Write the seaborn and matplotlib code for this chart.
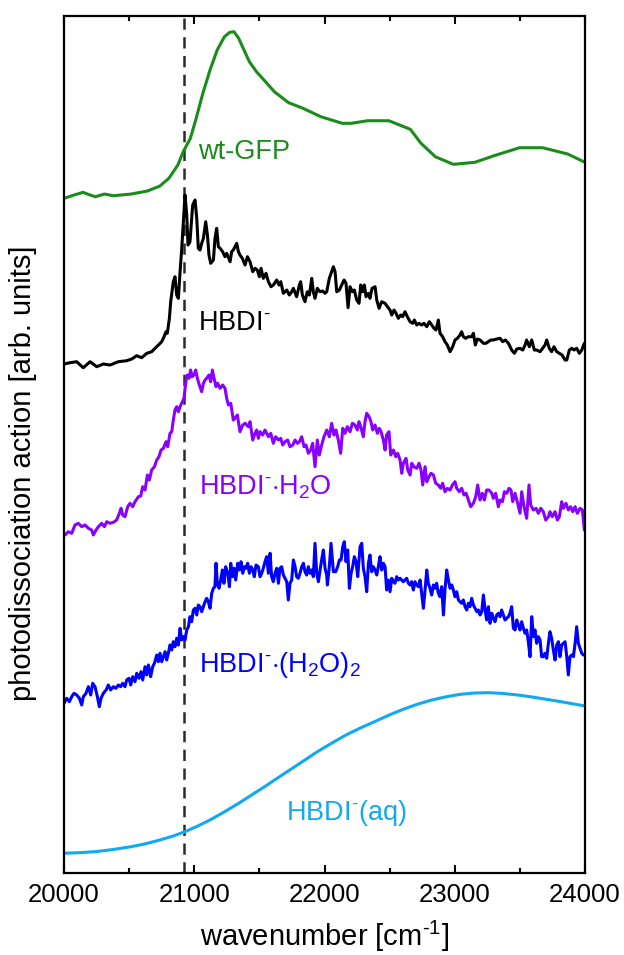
import numpy as np
import pandas as pd
import matplotlib
matplotlib.use("Agg")
import matplotlib.pyplot as plt
import seaborn as sns

# ---------------- data (wavenumber in cm^-1, stacked action in arb. units) ----------------
gfp_x = [20000, 20077, 20146, 20200, 20242, 20310, 20379, 20516, 20640, 20736, 20805, 20874,
         20915, 20970, 21011, 21066, 21121, 21176, 21231, 21272, 21305, 21341, 21382, 21423,
         21478, 21547, 21615, 21725, 21835, 21972, 22137, 22206, 22329, 22494, 22659, 22741,
         22851, 22989, 23153, 23318, 23497, 23675, 23868, 24000]
gfp_y = [6.747, 6.78, 6.807, 6.78, 6.763, 6.79, 6.773, 6.79, 6.82, 6.87, 6.947, 7.08,
         7.213, 7.347, 7.53, 7.797, 8.03, 8.23, 8.363, 8.407, 8.413, 8.347, 8.23, 8.113,
         8.013, 7.913, 7.813, 7.703, 7.647, 7.563, 7.497, 7.497, 7.523, 7.523, 7.437, 7.297,
         7.163, 7.087, 7.107, 7.18, 7.253, 7.253, 7.19, 7.107]

hbdi_x = [20000, 20046, 20097, 20148, 20200, 20251, 20302, 20353, 20417, 20481, 20520, 20558,
          20596, 20635, 20673, 20712, 20750, 20768, 20783, 20793, 20809, 20819, 20839, 20852,
          20865, 20878, 20891, 20903, 20916, 20929, 20942, 20952, 20967, 20988, 21006, 21019,
          21031, 21044, 21057, 21070, 21088, 21101, 21113, 21126, 21147, 21159, 21172, 21185,
          21198, 21218, 21236, 21249, 21275, 21287, 21300, 21326, 21339, 21351, 21369, 21390,
          21408, 21428, 21449, 21467, 21484, 21500, 21513, 21530, 21551, 21569, 21589, 21607,
          21633, 21651, 21664, 21684, 21710, 21730, 21748, 21761, 21786, 21807, 21817, 21830,
          21850, 21868, 21884, 21902, 21914, 21927, 21945, 21965, 21986, 22004, 22017, 22037,
          22055, 22068, 22081, 22094, 22114, 22132, 22150, 22165, 22181, 22196, 22214, 22229,
          22247, 22265, 22278, 22293, 22306, 22319, 22337, 22349, 22365, 22388, 22401, 22419,
          22439, 22465, 22483, 22503, 22516, 22534, 22549, 22567, 22585, 22600, 22618, 22636,
          22657, 22677, 22690, 22708, 22726, 22746, 22764, 22785, 22805, 22823, 22841, 22856,
          22874, 22887, 22907, 22925, 22943, 22964, 22984, 23002, 23020, 23040, 23053, 23066,
          23084, 23104, 23130, 23143, 23158, 23174, 23194, 23220, 23240, 23258, 23276, 23296,
          23322, 23348, 23368, 23389, 23412, 23437, 23458, 23476, 23501, 23522, 23540, 23552,
          23573, 23591, 23611, 23629, 23655, 23675, 23693, 23706, 23726, 23744, 23762, 23783,
          23803, 23824, 23847, 23860, 23880, 23898, 23916, 23936, 23957, 23975, 23995]
hbdi_y = [5.09, 5.103, 5.113, 5.053, 5.113, 5.063, 5.09, 5.08, 5.113, 5.123, 5.14, 5.173,
          5.153, 5.197, 5.213, 5.263, 5.313, 5.363, 5.413, 5.397, 5.547, 5.713, 5.913, 5.963,
          5.78, 5.747, 6.013, 6.23, 6.513, 6.78, 6.58, 6.28, 6.313, 6.68, 6.73, 6.547,
          6.247, 6.23, 6.297, 6.347, 6.513, 6.38, 6.18, 6.097, 6.13, 6.347, 6.447, 6.263,
          6.247, 6.213, 6.163, 6.197, 6.113, 6.213, 6.23, 6.297, 6.213, 6.18, 6.147, 6.08,
          6.163, 6.113, 6.013, 6.047, 6.03, 5.963, 6.047, 5.947, 5.997, 5.913, 5.863, 5.88,
          5.93, 5.88, 5.913, 5.797, 5.83, 5.78, 5.813, 5.847, 5.763, 5.88, 5.913, 5.78,
          5.713, 5.813, 5.78, 5.947, 5.813, 5.747, 5.847, 5.813, 5.82, 5.797, 5.813, 5.947,
          6.013, 6.063, 6.013, 5.813, 5.83, 5.88, 5.93, 5.897, 5.653, 5.863, 5.813, 5.83,
          5.73, 5.697, 5.88, 5.813, 5.88, 5.763, 5.797, 5.747, 5.847, 5.863, 5.73, 5.647,
          5.713, 5.697, 5.663, 5.63, 5.58, 5.63, 5.597, 5.547, 5.58, 5.563, 5.613, 5.563,
          5.513, 5.497, 5.53, 5.48, 5.497, 5.48, 5.497, 5.463, 5.513, 5.48, 5.447, 5.43,
          5.53, 5.397, 5.363, 5.313, 5.28, 5.213, 5.263, 5.33, 5.347, 5.38, 5.413, 5.363,
          5.347, 5.363, 5.363, 5.397, 5.28, 5.34, 5.33, 5.297, 5.297, 5.313, 5.33, 5.33,
          5.34, 5.347, 5.313, 5.33, 5.297, 5.23, 5.197, 5.24, 5.247, 5.23, 5.28, 5.33,
          5.263, 5.33, 5.23, 5.23, 5.213, 5.247, 5.28, 5.33, 5.247, 5.213, 5.263, 5.213,
          5.197, 5.18, 5.13, 5.13, 5.23, 5.247, 5.23, 5.247, 5.197, 5.23, 5.297]

h2o_x = [20008, 20033, 20059, 20084, 20110, 20136, 20161, 20187, 20212, 20225, 20246, 20264,
         20289, 20310, 20328, 20353, 20379, 20404, 20425, 20438, 20450, 20468, 20489, 20507,
         20527, 20545, 20571, 20589, 20604, 20622, 20640, 20655, 20673, 20694, 20712, 20729,
         20745, 20763, 20783, 20796, 20814, 20827, 20839, 20852, 20865, 20878, 20896, 20909,
         20921, 20937, 20947, 20960, 20972, 20983, 20998, 21011, 21024, 21039, 21057, 21070,
         21083, 21095, 21113, 21126, 21139, 21152, 21167, 21180, 21198, 21218, 21236, 21249,
         21262, 21280, 21300, 21313, 21331, 21351, 21372, 21390, 21415, 21428, 21449, 21467,
         21479, 21492, 21505, 21525, 21543, 21569, 21587, 21607, 21625, 21646, 21664, 21679,
         21697, 21717, 21735, 21756, 21774, 21792, 21807, 21825, 21843, 21858, 21876, 21894,
         21909, 21927, 21945, 21960, 21978, 21996, 22017, 22037, 22055, 22073, 22088, 22106,
         22124, 22140, 22158, 22175, 22196, 22214, 22234, 22252, 22265, 22278, 22298, 22311,
         22324, 22342, 22357, 22370, 22388, 22406, 22421, 22434, 22452, 22465, 22477, 22495,
         22508, 22529, 22547, 22562, 22580, 22593, 22605, 22626, 22639, 22657, 22669, 22687,
         22708, 22726, 22741, 22754, 22772, 22785, 22802, 22818, 22836, 22854, 22874, 22892,
         22907, 22925, 22943, 22964, 22982, 23002, 23015, 23035, 23053, 23071, 23087, 23105,
         23122, 23143, 23161, 23176, 23194, 23212, 23227, 23245, 23263, 23284, 23296, 23314,
         23335, 23348, 23366, 23381, 23399, 23417, 23432, 23445, 23463, 23483, 23501, 23514,
         23532, 23552, 23570, 23583, 23603, 23624, 23642, 23660, 23680, 23698, 23719, 23731,
         23749, 23770, 23788, 23803, 23821, 23834, 23854, 23872, 23890, 23906, 23924, 23941,
         23962, 23980, 23995]
h2o_y = [3.38, 3.413, 3.397, 3.48, 3.497, 3.463, 3.48, 3.447, 3.43, 3.38, 3.43, 3.463,
         3.497, 3.463, 3.513, 3.497, 3.507, 3.53, 3.597, 3.647, 3.58, 3.563, 3.663, 3.697,
         3.663, 3.713, 3.763, 3.77, 3.863, 3.83, 3.98, 3.93, 4.03, 4.063, 4.13, 4.163,
         4.23, 4.247, 4.313, 4.263, 4.397, 4.413, 4.53, 4.63, 4.663, 4.613, 4.68, 4.713,
         4.747, 4.93, 4.98, 4.947, 5.03, 4.963, 4.98, 5.03, 4.947, 4.88, 4.813, 4.897,
         4.93, 4.947, 4.98, 4.913, 5.03, 4.947, 4.863, 4.897, 4.847, 4.88, 4.847, 4.747,
         4.68, 4.697, 4.53, 4.547, 4.58, 4.413, 4.48, 4.497, 4.463, 4.513, 4.33, 4.397,
         4.43, 4.347, 4.413, 4.38, 4.43, 4.363, 4.397, 4.297, 4.363, 4.33, 4.347, 4.28,
         4.313, 4.33, 4.263, 4.28, 4.33, 4.297, 4.313, 4.363, 4.263, 4.28, 4.197, 4.23,
         4.297, 4.063, 4.33, 4.18, 4.28, 4.363, 4.43, 4.363, 4.497, 4.38, 4.43, 4.33,
         4.197, 4.447, 4.397, 4.463, 4.413, 4.497, 4.48, 4.43, 4.513, 4.463, 4.363, 4.513,
         4.597, 4.563, 4.513, 4.43, 4.48, 4.397, 4.447, 4.413, 4.33, 4.23, 4.38, 4.413,
         4.18, 4.23, 4.163, 4.197, 4.13, 3.997, 4.097, 4.147, 4.03, 3.98, 4.097, 4.063,
         4.047, 4.097, 4.03, 3.88, 4.063, 3.913, 3.963, 3.997, 3.98, 3.897, 3.88, 3.847,
         3.897, 3.813, 3.847, 3.83, 3.88, 3.913, 3.847, 3.813, 3.847, 3.78, 3.797, 3.73,
         3.663, 3.697, 3.763, 3.88, 3.73, 3.797, 3.73, 3.83, 3.83, 3.797, 3.747, 3.797,
         3.663, 3.73, 3.713, 3.813, 3.797, 3.847, 3.83, 3.713, 3.797, 3.697, 3.597, 3.813,
         3.663, 3.547, 3.88, 3.68, 3.63, 3.647, 3.597, 3.647, 3.613, 3.53, 3.563, 3.613,
         3.563, 3.613, 3.53, 3.563, 3.713, 3.647, 3.697, 3.63, 3.663, 3.613, 3.663, 3.597,
         3.647, 3.63, 3.43]

h2o2_x = [20000, 20021, 20041, 20059, 20077, 20097, 20118, 20136, 20148, 20169, 20187, 20205,
          20220, 20238, 20256, 20271, 20284, 20302, 20323, 20340, 20358, 20379, 20399, 20417,
          20435, 20450, 20468, 20481, 20499, 20512, 20527, 20545, 20558, 20576, 20591, 20604,
          20622, 20635, 20648, 20665, 20681, 20694, 20712, 20724, 20737, 20750, 20763, 20776,
          20788, 20801, 20814, 20827, 20839, 20852, 20865, 20878, 20891, 20903, 20916, 20929,
          20942, 20955, 20967, 20980, 20993, 21006, 21019, 21031, 21044, 21057, 21070, 21083,
          21095, 21108, 21121, 21134, 21147, 21159, 21167, 21177, 21190, 21203, 21216, 21228,
          21241, 21257, 21270, 21280, 21293, 21305, 21318, 21333, 21346, 21359, 21372, 21385,
          21397, 21410, 21423, 21436, 21449, 21461, 21474, 21492, 21505, 21518, 21530, 21543,
          21556, 21569, 21582, 21594, 21607, 21620, 21633, 21646, 21658, 21671, 21684, 21697,
          21710, 21722, 21735, 21748, 21761, 21774, 21786, 21799, 21812, 21825, 21838, 21850,
          21863, 21876, 21889, 21902, 21914, 21927, 21940, 21953, 21966, 21978, 21991, 22004,
          22017, 22022, 22037, 22050, 22068, 22086, 22101, 22114, 22127, 22140, 22152, 22165,
          22178, 22191, 22204, 22216, 22229, 22242, 22255, 22273, 22286, 22298, 22311, 22324,
          22337, 22349, 22362, 22375, 22388, 22401, 22413, 22426, 22439, 22452, 22465, 22477,
          22490, 22503, 22516, 22529, 22541, 22554, 22567, 22580, 22593, 22605, 22618, 22631,
          22644, 22657, 22669, 22682, 22695, 22708, 22721, 22734, 22746, 22759, 22772, 22785,
          22797, 22810, 22823, 22836, 22849, 22861, 22874, 22887, 22900, 22913, 22925, 22938,
          22951, 22964, 22977, 22989, 23002, 23015, 23028, 23040, 23053, 23066, 23079, 23092,
          23105, 23117, 23130, 23143, 23156, 23169, 23181, 23194, 23207, 23220, 23233, 23245,
          23258, 23271, 23284, 23297, 23309, 23322, 23335, 23348, 23360, 23373, 23386, 23399,
          23412, 23424, 23437, 23450, 23463, 23476, 23488, 23501, 23514, 23527, 23540, 23552,
          23565, 23578, 23591, 23604, 23616, 23629, 23642, 23655, 23667, 23680, 23693, 23706,
          23719, 23731, 23744, 23757, 23770, 23783, 23796, 23808, 23821, 23834, 23847, 23860,
          23872, 23885, 23898, 23911, 23924, 23936, 23949, 23962, 23975, 23987, 24000]
h2o2_y = [1.697, 1.747, 1.713, 1.763, 1.797, 1.78, 1.747, 1.68, 1.763, 1.797, 1.863, 1.78,
          1.897, 1.863, 1.763, 1.663, 1.747, 1.797, 1.83, 1.88, 1.83, 1.863, 1.847, 1.88,
          1.863, 1.897, 1.863, 1.93, 1.947, 1.88, 1.963, 1.913, 1.997, 1.947, 2.013, 1.93,
          2.063, 1.98, 2.08, 1.963, 2.063, 2.097, 2.18, 2.113, 2.197, 2.113, 2.163, 2.213,
          2.13, 2.197, 2.28, 2.23, 2.313, 2.263, 2.347, 2.28, 2.447, 2.33, 2.363, 2.33,
          2.43, 2.463, 2.563, 2.513, 2.63, 2.647, 2.58, 2.68, 2.663, 2.613, 2.663, 2.713,
          2.747, 2.713, 2.647, 2.797, 2.847, 2.863, 3.097, 2.897, 2.847, 2.93, 3.03, 2.897,
          3.063, 2.997, 2.863, 3.097, 2.963, 3.047, 2.93, 3.097, 3.03, 3.113, 2.997, 3.063,
          3.047, 3.097, 2.997, 3.063, 3.03, 2.963, 3.08, 3.063, 2.963, 2.997, 3.047, 3.113,
          3.163, 2.997, 3.197, 2.963, 2.913, 2.997, 3.047, 2.897, 3.047, 3.063, 2.98, 2.947,
          2.913, 2.73, 2.897, 2.93, 3.13, 3.063, 2.963, 2.947, 2.997, 3.063, 3.097, 3.013,
          2.98, 3.063, 2.997, 3.03, 2.963, 3.297, 2.997, 2.913, 3.03, 3.13, 3.23, 3.047,
          2.98, 2.88, 3.063, 3.297, 3.013, 3.013, 3.063, 3.13, 3.13, 3.263, 3.313, 3.113,
          3.23, 2.847, 2.997, 3.063, 3.163, 3.113, 2.963, 3.263, 3.297, 3.047, 2.963, 2.813,
          3.097, 3.18, 3.013, 3.063, 3.03, 2.98, 3.063, 3.163, 3.03, 3.097, 3.063, 2.83,
          2.93, 2.813, 2.947, 2.913, 2.897, 2.963, 2.93, 2.947, 2.93, 2.913, 2.93, 2.947,
          2.897, 2.88, 2.913, 2.83, 2.913, 2.88, 2.863, 2.93, 2.797, 2.647, 2.83, 3.03,
          2.897, 2.847, 2.78, 2.88, 2.847, 2.897, 2.797, 2.763, 2.863, 2.58, 2.83, 3.03,
          2.93, 2.847, 2.88, 2.83, 2.763, 2.813, 2.73, 2.713, 2.697, 2.73, 2.663, 2.63,
          2.697, 2.663, 2.747, 2.68, 2.647, 2.613, 2.63, 2.58, 2.613, 2.78, 2.63, 2.53,
          2.663, 2.497, 2.597, 2.547, 2.513, 2.58, 2.597, 2.563, 2.63, 2.58, 2.53, 2.547,
          2.563, 2.597, 2.663, 2.447, 2.43, 2.53, 2.48, 2.43, 2.513, 2.447, 2.397, 2.43,
          2.313, 2.163, 2.563, 2.363, 2.43, 2.297, 2.363, 2.33, 2.163, 2.163, 2.197, 2.147,
          2.297, 2.413, 2.347, 2.23, 2.13, 2.28, 2.313, 2.163, 2.28, 2.297, 2.313, 2.163,
          1.98, 2.163, 2.18, 2.163, 2.297, 2.463, 2.297, 2.247, 2.197, 2.18, 2.18]

aq_x = [20000, 20120, 20242, 20380, 20516, 20630, 20736, 20835, 20929, 21025, 21121,
        21230, 21341, 21450, 21560, 21655, 21753, 21850, 21945, 22055, 22165, 22275,
        22384, 22494, 22604, 22714, 22824, 22934, 23044, 23154, 23263, 23373, 23483,
        23593, 23703, 23850, 24000]
aq_y = [0.197, 0.203, 0.213, 0.235, 0.263, 0.293, 0.33, 0.368, 0.413, 0.468, 0.53,
        0.61, 0.697, 0.788, 0.88, 0.963, 1.047, 1.13, 1.213, 1.298, 1.38, 1.45,
        1.513, 1.578, 1.637, 1.688, 1.73, 1.762, 1.787, 1.80, 1.803, 1.795, 1.78,
        1.76, 1.737, 1.705, 1.67]

series_names = ["wt-GFP", r"HBDI$^{\text{-}}$", r"HBDI$^{\text{-}}$$\cdot$H$_2$O",
                r"HBDI$^{\text{-}}$$\cdot$(H$_2$O)$_2$", r"HBDI$^{\text{-}}$(aq)"]
series_colors = ["#1a8c1a", "#000000", "#8a00ff", "#0000ff", "#11a9f2"]
label_x = [21030, 21030, 21035, 21035, 22170]
label_y = [7.21, 5.50, 3.86, 2.08, 0.60]
label_ha = ["left", "left", "left", "left", "center"]
marker_wn = 20920
x_ticks = [20000, 21000, 22000, 23000, 24000]

# ---------------- plotting ----------------
sns.set_theme(style="ticks")
plt.rcParams["font.family"] = ["Liberation Sans", "DejaVu Sans"]
plt.rcParams["mathtext.fontset"] = "custom"
plt.rcParams["mathtext.rm"] = "Liberation Sans"
plt.rcParams["mathtext.it"] = "Liberation Sans"
plt.rcParams["mathtext.bf"] = "Liberation Sans:bold"
for key in ["text.color", "axes.labelcolor", "xtick.color", "ytick.color", "axes.edgecolor"]:
    plt.rcParams[key] = "black"

fig = plt.figure(figsize=(6.24, 9.55), dpi=100)
ax = fig.add_axes([0.1026, 0.0859, 0.8349, 0.8973])

all_x = [gfp_x, hbdi_x, h2o_x, h2o2_x, aq_x]
all_y = [gfp_y, hbdi_y, h2o_y, h2o2_y, aq_y]
for xs, ys, c in zip(all_x, all_y, series_colors):
    df = pd.DataFrame({"wn": xs, "val": ys})
    sns.lineplot(data=df, x="wn", y="val", color=c, lw=2.2, ax=ax,
                 estimator=None, sort=False)

ax.axvline(marker_wn, color="#2a2a2a", lw=1.8, ls=(0, (4.5, 3)), zorder=0)

for name, c, lx, ly, ha in zip(series_names, series_colors, label_x, label_y, label_ha):
    ax.text(lx, ly, name, color=c, fontsize=19.5, ha=ha, va="center")

ax.set_xlim(20000, 24000)
ax.set_ylim(0, 8.57)
ax.set_xticks(x_ticks)
ax.set_xticks(np.arange(20500, 24000, 1000), minor=True)
ax.set_yticks([])
ax.tick_params(axis="x", which="both", direction="in", top=True, bottom=True,
               width=1.5, labelsize=18.5, pad=7)
ax.tick_params(axis="x", which="major", length=6)
ax.tick_params(axis="x", which="minor", length=3.5)
for s in ax.spines.values():
    s.set_linewidth(1.6)
    s.set_color("black")
    s.set_visible(True)

ax.set_xlabel(r"wavenumber [cm$^{\text{-1}}$]", fontsize=21, labelpad=9)
ax.set_ylabel("photodissociation action [arb. units]", fontsize=21)
ax.yaxis.set_label_coords(-0.052, 0.466)

fig.savefig("out.png", dpi=100)
